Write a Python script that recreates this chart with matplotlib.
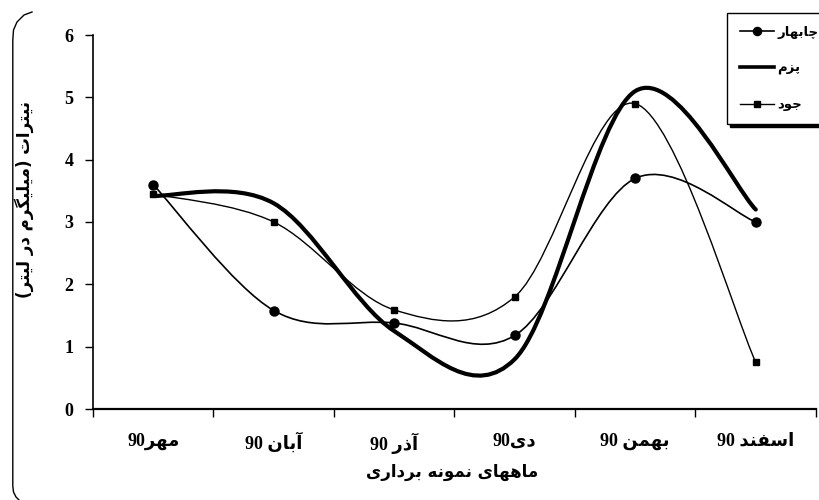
import re
import matplotlib
matplotlib.use("Agg")
import matplotlib.pyplot as plt
from matplotlib.path import Path
from matplotlib.patches import PathPatch
from matplotlib.lines import Line2D

# ---------------- data ----------------
months = ["مهر90", "آبان 90", "آذر 90", "دی90", "بهمن 90", "اسفند 90"]
series_names = ["چابهار", "پزم", "جود"]
chabahar = [3.6, 1.58, 1.38, 1.18, 3.7, 3.0]
pozm = [3.42, 3.3, 1.25, 0.8, 5.1, 3.2]
jood = [3.45, 3.0, 1.59, 1.8, 4.9, 0.75]
yticks = [0, 1, 2, 3, 4, 5, 6]
xlabel = "ماههای نمونه برداری"
ylabel = "نیترات (میلیگرم در لیتر)"

# ---------------- simple Persian shaping ----------------
F = {
    'ا': ('\uFE8D', '\uFE8E', None, None),
    'آ': ('\uFE81', '\uFE82', None, None),
    'ب': ('\uFE8F', '\uFE90', '\uFE91', '\uFE92'),
    'پ': ('\uFB56', '\uFB57', '\uFB58', '\uFB59'),
    'ت': ('\uFE95', '\uFE96', '\uFE97', '\uFE98'),
    'ج': ('\uFE9D', '\uFE9E', '\uFE9F', '\uFEA0'),
    'چ': ('\uFB7A', '\uFB7B', '\uFB7C', '\uFB7D'),
    'د': ('\uFEA9', '\uFEAA', None, None),
    'ذ': ('\uFEAB', '\uFEAC', None, None),
    'ر': ('\uFEAD', '\uFEAE', None, None),
    'ز': ('\uFEAF', '\uFEB0', None, None),
    'س': ('\uFEB1', '\uFEB2', '\uFEB3', '\uFEB4'),
    'ف': ('\uFED1', '\uFED2', '\uFED3', '\uFED4'),
    'گ': ('\uFB92', '\uFB93', '\uFB94', '\uFB95'),
    'ل': ('\uFEDD', '\uFEDE', '\uFEDF', '\uFEE0'),
    'م': ('\uFEE1', '\uFEE2', '\uFEE3', '\uFEE4'),
    'ن': ('\uFEE5', '\uFEE6', '\uFEE7', '\uFEE8'),
    'ه': ('\uFEE9', '\uFEEA', '\uFEEB', '\uFEEC'),
    'و': ('\uFEED', '\uFEEE', None, None),
    'ی': ('\uFBFC', '\uFBFD', '\uFBFE', '\uFBFF'),
}
MIRROR = {'(': ')', ')': '('}


def fa(s):
    out = []
    for i, ch in enumerate(s):
        if ch in F:
            prev = s[i - 1] if i > 0 else ''
            nxt = s[i + 1] if i + 1 < len(s) else ''
            jp = prev in F and F[prev][2] is not None
            jn = F[ch][2] is not None and nxt in F
            f = F[ch]
            if jp and jn:
                g = f[3]
            elif jp:
                g = f[1]
            elif jn:
                g = f[2]
            else:
                g = f[0]
            out.append(g)
        else:
            out.append(MIRROR.get(ch, ch))
    vis = ''.join(reversed(out))
    vis = re.sub(r'[0-9]+', lambda m: m.group(0)[::-1], vis)
    return vis


# ---------------- smoothing (Excel-like) ----------------
def smooth_path(xs, ys):
    pts = list(zip(xs, ys))
    n = len(pts)
    verts = [pts[0]]
    codes = [Path.MOVETO]
    for i in range(n - 1):
        p0 = pts[i - 1] if i > 0 else pts[i]
        p1 = pts[i]
        p2 = pts[i + 1]
        p3 = pts[i + 2] if i + 2 < n else pts[i + 1]
        c1 = (p1[0] + (p2[0] - p0[0]) / 6.0, p1[1] + (p2[1] - p0[1]) / 6.0)
        c2 = (p2[0] - (p3[0] - p1[0]) / 6.0, p2[1] - (p3[1] - p1[1]) / 6.0)
        verts += [c1, c2, p2]
        codes += [Path.CURVE4] * 3
    return Path(verts, codes)


FAM = ['Liberation Serif', 'DejaVu Sans']
FAM_SANS = ['DejaVu Sans']

fig = plt.figure(figsize=(8.2, 5.0), dpi=100)
ax = fig.add_axes([93 / 820, 1 - 409 / 500, (816 - 93) / 820, (409 - 35) / 500])

x = list(range(1, len(months) + 1))
styles = [
    dict(data=chabahar, lw=1.2, marker='o', ms=6.5),
    dict(data=pozm, lw=3.0, marker=None, ms=0),
    dict(data=jood, lw=1.0, marker='s', ms=4.5),
]
handles = []
for name, st in zip(series_names, styles):
    p = smooth_path(x, st['data'])
    ax.add_patch(PathPatch(p, facecolor='none', edgecolor='black', lw=st['lw'],
                           capstyle='round', joinstyle='round', zorder=3))
    if st['marker']:
        ax.plot(x, st['data'], linestyle='none', marker=st['marker'], ms=st['ms'],
                color='black', zorder=4)
    handles.append(Line2D([], [], color='black', lw=st['lw'] if st['lw'] < 2 else 2.6,
                          marker=st['marker'], ms=st['ms'] * 0.9))

ax.set_xlim(0.5, len(months) + 0.5)
ax.set_ylim(0, 6)
ax.set_yticks(yticks)
ax.set_yticklabels([str(t) for t in yticks], fontfamily=FAM, fontweight='bold', fontsize=13)
ax.set_xticks([i + 0.5 for i in range(0, len(months) + 1)])
ax.set_xticklabels([])
ax.set_xticks(x, minor=True)
ax.set_xticklabels([fa(m) for m in months], minor=True, fontfamily=FAM,
                   fontweight='bold', fontsize=13)
ax.tick_params(axis='x', which='major', direction='out', length=6, width=1)
ax.tick_params(axis='x', which='minor', length=0, pad=17)
ax.tick_params(axis='y', direction='out', length=6, width=1, pad=8)
for s in ['top', 'right']:
    ax.spines[s].set_visible(False)
for s in ['left', 'bottom']:
    ax.spines[s].set_linewidth(1.2)
ax.spines['bottom'].set_linewidth(1.6)

fig.text(452 / 820, 1 - 472 / 500, fa(xlabel), ha='center', va='center',
         fontfamily=FAM_SANS, fontweight='bold', fontsize=12)
fig.text(24 / 820, 1 - 200 / 500, fa(ylabel), ha='center', va='center', rotation=90,
         fontfamily=FAM_SANS, fontweight='bold', fontsize=12)

leg = fig.legend(handles, [fa(n) for n in series_names], loc='upper left',
                 bbox_to_anchor=(727 / 820, 1 - 13 / 500),
                 frameon=True, fancybox=False, edgecolor='black', framealpha=1,
                 shadow={'color': 'black', 'alpha': 1},
                 prop={'family': FAM_SANS, 'weight': 'bold', 'size': 9.5},
                 handlelength=2.6, handletextpad=0.25, labelspacing=1.75,
                 borderpad=0.95, borderaxespad=0)
leg.get_frame().set_linewidth(1.0)

# partial rounded outer chart border (left side)
bx = [32, 24, 17, 13.5, 12.8, 12.8, 13.5, 16, 19]
by = [12, 15, 22, 30, 40, 486, 492, 497, 500]
fig.add_artist(Line2D([v / 820 for v in bx], [1 - v / 500 for v in by],
                      transform=fig.transFigure, color='black', lw=1.0))

fig.savefig("out.png", dpi=100)
